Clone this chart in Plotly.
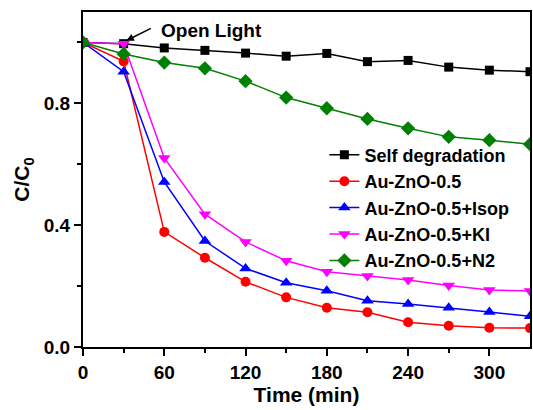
import plotly.graph_objects as go

time_min = [0, 30, 60, 90, 120, 150, 180, 210, 240, 270, 300, 330]
self_deg = [1.0, 0.996, 0.982, 0.974, 0.965, 0.955, 0.964, 0.937, 0.941, 0.919, 0.909, 0.904]
au_zno = [1.0, 0.938, 0.378, 0.293, 0.214, 0.163, 0.129, 0.114, 0.081, 0.070, 0.063, 0.062]
au_zno_isop = [1.0, 0.904, 0.542, 0.348, 0.258, 0.211, 0.185, 0.152, 0.141, 0.129, 0.115, 0.101]
au_zno_ki = [1.0, 0.996, 0.621, 0.436, 0.345, 0.283, 0.247, 0.233, 0.220, 0.202, 0.187, 0.184]
au_zno_n2 = [1.0, 0.962, 0.934, 0.915, 0.873, 0.819, 0.784, 0.749, 0.718, 0.690, 0.679, 0.666]

names = ["Self degradation", "Au-ZnO-0.5", "Au-ZnO-0.5+Isop", "Au-ZnO-0.5+KI", "Au-ZnO-0.5+N2"]
colors = ["#000000", "#ff0000", "#0000ff", "#ff00ff", "#008000"]
symbols = ["square", "circle", "triangle-up", "triangle-down", "diamond"]
sizes = [9, 10, 11, 11, 11]
series = [self_deg, au_zno, au_zno_isop, au_zno_ki, au_zno_n2]

FONT = "Liberation Sans, Arial, sans-serif"

fig = go.Figure()
for name, ys, c, s, sz in zip(names, series, colors, symbols, sizes):
    fig.add_trace(go.Scatter(
        x=time_min, y=ys, name=name, mode="lines+markers",
        line=dict(color=c, width=1.5),
        marker=dict(symbol=s, size=sz, color=c),
    ))

axis_common = dict(
    showline=True, linecolor="black", linewidth=2, mirror=True,
    ticks="outside", ticklen=7, tickwidth=2, tickcolor="black",
    showgrid=False, zeroline=False,
    tickfont=dict(family=FONT, size=19, color="black", weight="bold"),
)

fig.update_xaxes(
    range=[0, 330], tickvals=[0, 60, 120, 180, 240, 300],
    minor=dict(tickvals=[30, 90, 150, 210, 270], ticks="outside", ticklen=4, tickwidth=2, tickcolor="black"),
    title=dict(text="<b>Time (min)</b>", font=dict(family=FONT, size=21, color="black"), standoff=4),
    **axis_common,
)
fig.update_yaxes(
    range=[0, 1.1], tickvals=[0, 0.4, 0.8], ticktext=["0.0", "0.4", "0.8"],
    minor=dict(tickvals=[0.2, 0.6, 1.0], ticks="outside", ticklen=4, tickwidth=2, tickcolor="black"),
    title=dict(text="<b>C/C<sub>0</sub></b>", font=dict(family=FONT, size=21, color="black"), standoff=8),
    **axis_common,
)

fig.add_annotation(
    x=32, y=1.006, xref="x", yref="y", ax=26, ay=-13, axref="pixel", ayref="pixel",
    text="", showarrow=True, arrowhead=2, arrowsize=1, arrowwidth=1.5, arrowcolor="black",
)
fig.add_annotation(
    x=(159 - 83) / 449, y=(347 - 30) / 335, xref="paper", yref="paper",
    text="<b>Open Light</b>", showarrow=False,
    font=dict(family=FONT, size=19, color="black"), xanchor="left", yanchor="middle",
)

fig.update_layout(
    width=533, height=410,
    margin=dict(l=83, r=1, t=12, b=63),
    paper_bgcolor="white", plot_bgcolor="white",
    font=dict(family=FONT, color="black"),
    legend=dict(
        x=0.54, y=0.628, xanchor="left", yanchor="top",
        bgcolor="rgba(0,0,0,0)", borderwidth=0,
        font=dict(family=FONT, size=18, color="black", weight="bold"),
        tracegroupgap=0, itemwidth=30,
    ),
)

fig.write_html("out.html", config={"displayModeBar": False},
               post_script="document.body.style.margin='0';document.body.style.padding='0';")
